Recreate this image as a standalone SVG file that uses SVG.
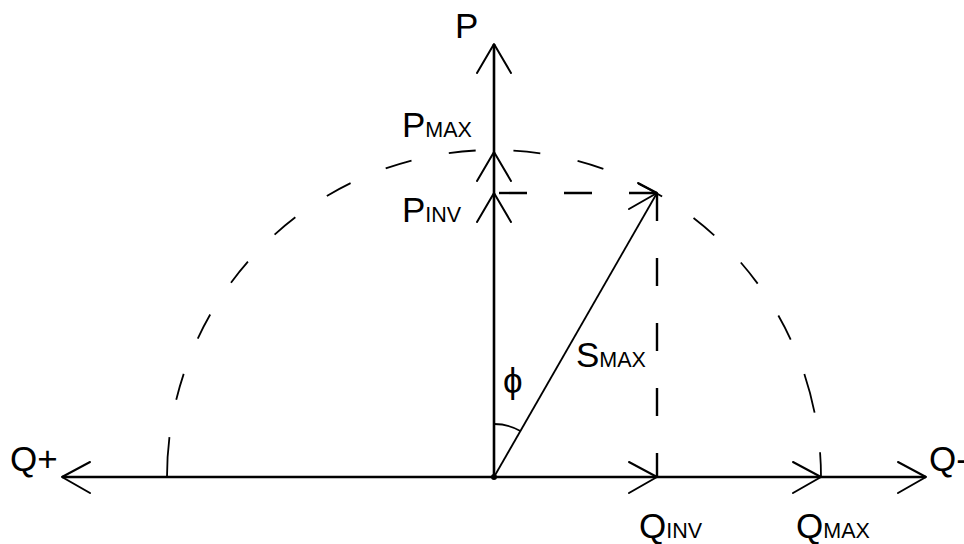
<svg xmlns="http://www.w3.org/2000/svg" width="964" height="544" viewBox="0 0 964 544">
<style>
.ax{stroke:#000;stroke-width:2.6;fill:none}
.ah{stroke:#000;stroke-width:2;fill:none;stroke-linecap:round;stroke-linejoin:round}
.dash{stroke:#000;stroke-width:2.4;fill:none;stroke-dasharray:28 37}
.arc{stroke:#000;stroke-width:1.8;fill:none}
.thin{stroke:#000;stroke-width:1.8;fill:none}
text{font-family:"Liberation Sans",Arial,sans-serif;fill:#000}
.big{font-size:35px}
.sub{font-size:21.5px}
</style>
<rect width="964" height="544" fill="#fff"/>
<g id="circle">
<path class="arc" d="M167,477 A327,327 0 0 1 821,477" stroke-dasharray="40 38 27 38 27 38 27 38 27 38 27 38 27 38 27 38 27 38 27 38 27 38 27 38 27 38 27 37 40"/>
</g>
<g id="connectors">
<line class="ax" x1="494" y1="477" x2="494" y2="44"/>
<line class="ax" x1="62" y1="477" x2="926" y2="477"/>
<line class="thin" x1="494" y1="477" x2="657" y2="193"/>
<line class="dash" x1="657" y1="193" x2="494" y2="193" stroke-dasharray="31 35"/>
<line class="dash" x1="657" y1="193" x2="657" y2="477"/>
<path class="thin" d="M494,424 A53,53 0 0 1 520.4,431"/>
<g class="ah">
<polyline points="477,73 494,44 511,73"/>
<polyline points="477,181 494,152 511,181"/>
<polyline points="477,222 494,193 511,222"/>
<polyline points="90,462 62,477 90,493"/>
<polyline points="898,462 926,477 898,493"/>
<polyline points="629,462 657,477 629,493"/>
<polyline points="793,462 821,477 793,493"/>
<polyline points="638,183 657,193 629,209"/>
</g>
<circle cx="494" cy="477" r="3" fill="#000"/>
</g>
<g id="labels">
<text id="P" class="big" x="455" y="38">P</text>
<text id="Pmax" x="402" y="137"><tspan class="big">P</tspan><tspan class="sub">MAX</tspan></text>
<text id="Pinv" x="402" y="222"><tspan class="big">P</tspan><tspan class="sub">INV</tspan></text>
<text id="Qplus" class="big" x="10" y="471">Q+</text>
<text id="Qminus" class="big" x="929" y="471">Q-</text>
<text id="Qinv" x="639" y="538"><tspan class="big">Q</tspan><tspan class="sub">INV</tspan></text>
<text id="Qmax" x="796" y="538"><tspan class="big">Q</tspan><tspan class="sub">MAX</tspan></text>
<text id="Smax" x="576" y="367"><tspan class="big">S</tspan><tspan class="sub">MAX</tspan></text>
<text id="phi" class="big" x="503" y="393">ϕ</text>
</g>
</svg>
